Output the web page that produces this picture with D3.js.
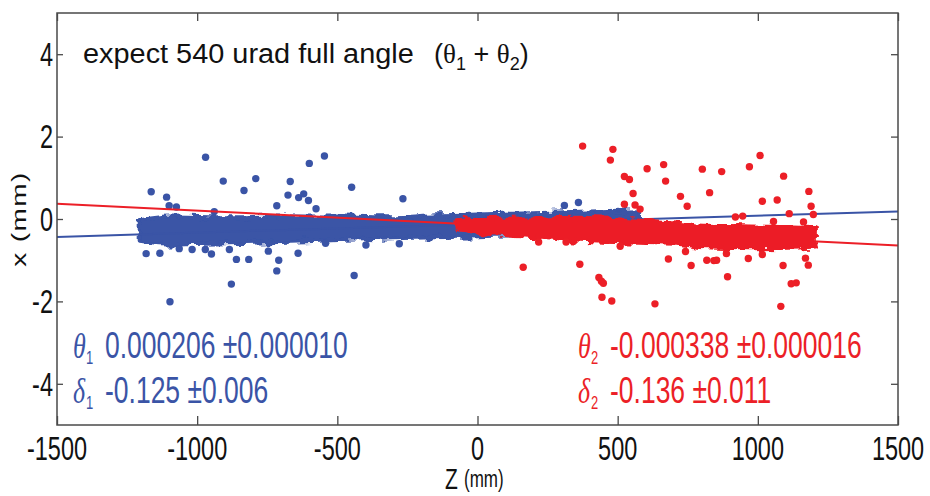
<!DOCTYPE html>
<html>
<head>
<meta charset="utf-8">
<script src="https://cdn.jsdelivr.net/npm/d3@7/dist/d3.min.js"></script>
<style>
  body { margin: 0; background: #fff; }
  svg { display: block; }
</style>
</head>
<body>
<div id="chart"></div>
<script>
// Data
const xTicks = [-1500, -1000, -500, 0, 500, 1000, 1500];
const yTicks = [-4, -2, 0, 2, 4];

// fit results: theta (slope, rad) and delta (offset, mm)
const fitTheta = [0.000206, -0.000338];
const fitDelta = [-0.125, -0.136];
const fitThetaErr = ["0.000010", "0.000016"];
const fitDeltaErr = ["0.006", "0.011"];

// dense core of each cloud: z, upper x, lower x
const blueBandZ = [-1205, -1100, -900, -700, -500, -300, -150, 0, 200, 400, 580];
const blueBandHi = [-0.03, 0.06, 0.04, 0.06, 0.06, 0.04, 0.09, 0.11, 0.14, 0.18, 0.21];
const blueBandLo = [-0.55, -0.62, -0.59, -0.56, -0.51, -0.47, -0.44, -0.42, -0.38, -0.34, -0.3];

const redBandZ = [-75, 0, 200, 365, 545, 725, 790, 975, 1150, 1207];
const redBandHi = [-0.03, 0.0, 0.01, 0.03, -0.03, -0.1, -0.16, -0.18, -0.21, -0.22];
const redBandLo = [-0.24, -0.33, -0.44, -0.53, -0.57, -0.61, -0.68, -0.71, -0.69, -0.67];

// scattered points outside the core, [z, x]
const blueOutliers = [
  [-970, 1.5], [-907, 0.92], [-791, 0.98], [-833, 0.69], [-600, 1.35], [-546, 1.53],
  [-668, 0.91], [-676, 0.58], [-638, 0.52], [-620, 0.61], [-603, 0.45], [-716, 0.32],
  [-576, 0.25], [-449, 0.77], [-266, 0.49], [-1164, 0.66], [-1109, 0.53], [-1100, 0.32],
  [-1074, 0.29], [-939, 0.18], [-1182, -0.84], [-1133, -0.83], [-1064, -0.72],
  [-1018, -0.74], [-971, -0.74], [-949, -0.85], [-885, -0.74], [-860, -0.98],
  [-816, -0.98], [-746, -0.78], [-709, -1.0], [-716, -1.26], [-640, -0.83],
  [-878, -1.58], [-440, -1.37], [-398, -0.63], [-279, -0.6], [-542, -0.59],
  [-1097, -2.01], [310, 0.33], [360, 0.4]
];
const redOutliers = [
  [375, 1.77], [483, 1.69], [474, 1.43], [524, 1.03], [542, 0.96], [555, 0.62],
  [524, 0.36], [562, 0.34], [580, 0.24], [605, 1.22], [664, 1.32], [671, 0.92],
  [724, 0.55], [748, 0.31], [802, 1.21], [828, 0.64], [871, 1.15], [970, 1.27],
  [1008, 1.54], [1092, 1.04], [1016, 0.43], [1069, 0.46], [1112, 0.13], [1182, 0.67],
  [1190, 0.31], [1198, 0.11], [920, 0.05], [946, 0.07], [1056, -0.06], [1163, -0.07],
  [163, -1.17], [218, -0.56], [316, -0.56], [365, -1.1], [433, -1.42], [442, -1.51],
  [449, -1.56], [444, -1.9], [479, -1.99], [509, -0.66], [633, -2.06], [681, -0.97],
  [742, -0.79], [762, -1.13], [818, -1.0], [843, -1.01], [853, -1.0], [888, -0.84],
  [892, -1.4], [966, -0.96], [1016, -0.86], [1090, -1.13], [1119, -1.57],
  [1137, -1.55], [1082, -2.12], [1170, -0.95], [1180, -1.12]
];

const blue = "#3a54a6";
const red = "#ec1f27";

const w = 930;
const h = 496;
const sy = 1.4; // the picture is stretched vertically

const x = d3.scaleLinear().domain([-1500, 1500]).range([57, 898]);
const y = d3.scaleLinear().domain([-5, 5]).range([425, 13]);

const svg = d3
  .select("#chart")
  .append("svg")
  .attr("width", w)
  .attr("height", h);

// ragged edge for the dense clouds
const defs = svg.append("defs");
const fuzz = defs
  .append("filter")
  .attr("id", "fuzz")
  .attr("x", "-5%")
  .attr("y", "-50%")
  .attr("width", "110%")
  .attr("height", "200%");
fuzz
  .append("feTurbulence")
  .attr("type", "fractalNoise")
  .attr("baseFrequency", "0.09 0.16")
  .attr("numOctaves", 2)
  .attr("seed", 7)
  .attr("result", "noise");
fuzz
  .append("feDisplacementMap")
  .attr("in", "SourceGraphic")
  .attr("in2", "noise")
  .attr("scale", 10)
  .attr("xChannelSelector", "R")
  .attr("yChannelSelector", "G")
  .attr("result", "moved");
fuzz
  .append("feGaussianBlur")
  .attr("in", "moved")
  .attr("stdDeviation", 0.6);

// stretched text helper
function label(g, px, py, str, opt = {}) {
  return g
    .append("text")
    .attr("transform", `translate(${px},${py}) scale(${opt.sx || 1},${opt.sy || sy})`)
    .attr("text-anchor", opt.anchor || "start")
    .style("font-family", opt.font || "'Liberation Sans', Arial, sans-serif")
    .style("font-size", (opt.size || 23.5) + "px")
    .style("font-style", opt.italic ? "italic" : "normal")
    .attr("fill", opt.color || "#111")
    .text(str);
}

const band = d3
  .area()
  .x(d => x(d[0]))
  .y0(d => y(d[2]))
  .y1(d => y(d[1]))
  .curve(d3.curveMonotoneX);

function drawCloud(zs, his, los, pts, col) {
  svg
    .append("path")
    .datum(zs.map((z, i) => [z, his[i], los[i]]))
    .attr("d", band)
    .attr("fill", col)
    .attr("stroke", col)
    .attr("stroke-width", 4)
    .attr("stroke-linejoin", "round")
    .attr("filter", "url(#fuzz)");
  svg
    .append("g")
    .selectAll("circle")
    .data(pts)
    .enter()
    .append("circle")
    .attr("cx", d => x(d[0]))
    .attr("cy", d => y(d[1]))
    .attr("r", 3.7)
    .attr("fill", col);
}

// blue cloud first, red drawn on top
drawCloud(blueBandZ, blueBandHi, blueBandLo, blueOutliers, blue);

// fit lines
const fitLine = d3
  .line()
  .x(d => x(d[0]))
  .y(d => y(d[1]));
[blue, red].forEach((col, i) => {
  svg
    .append("path")
    .datum(x.domain().map(z => [z, fitTheta[i] * z + fitDelta[i]]))
    .attr("d", fitLine)
    .attr("stroke", col)
    .attr("stroke-width", 2)
    .attr("fill", "none");
});

drawCloud(redBandZ, redBandHi, redBandLo, redOutliers, red);

// frame and ticks
const frame = "#4a4a4a";
svg
  .append("rect")
  .attr("x", x(-1500))
  .attr("y", y(5))
  .attr("width", x(1500) - x(-1500))
  .attr("height", y(-5) - y(5))
  .attr("fill", "none")
  .attr("stroke", frame)
  .attr("stroke-width", 1.5);

const axes = svg.append("g").attr("class", "axes");
axes
  .append("g")
  .attr("transform", `translate(0,${y(-5)})`)
  .call(d3.axisBottom(x).tickValues(xTicks).tickSize(-9).tickFormat(""));
axes
  .append("g")
  .attr("transform", `translate(0,${y(5)})`)
  .call(d3.axisTop(x).tickValues(xTicks).tickSize(-8).tickFormat(""));
axes
  .append("g")
  .attr("transform", `translate(${x(-1500)},0)`)
  .call(d3.axisLeft(y).tickValues(yTicks).tickSize(4).tickSizeInner(-6).tickFormat(""));
axes
  .append("g")
  .attr("transform", `translate(${x(1500)},0)`)
  .call(d3.axisRight(y).tickValues(yTicks).tickSize(-7).tickFormat(""));
axes.selectAll(".domain").remove();
axes.selectAll(".tick line").attr("stroke", frame).attr("stroke-width", 1.3);

// tick labels
xTicks.forEach(t => label(svg, x(t), 460, String(t), { anchor: "middle" }));
yTicks.forEach(t => label(svg, 53, y(t) + 11.7, String(t), { anchor: "end" }));

// axis titles
label(svg, 445, 489, "Z", { size: 21 });
label(svg, 464, 487, "(mm)", { size: 17 });
svg
  .append("text")
  .attr("transform", `translate(26,${y(0)}) rotate(-90) scale(1.4,1)`)
  .attr("text-anchor", "middle")
  .style("font-family", "'Liberation Sans', Arial, sans-serif")
  .style("font-size", "20px")
  .style("letter-spacing", "1px")
  .attr("fill", "#111")
  .text("x (mm)");

// title note
label(svg, 83, 63, "expect 540 urad full angle", { size: 27, sx: 1.07, sy: 1 });
const note = svg
  .append("text")
  .attr("x", 434)
  .attr("y", 63)
  .style("font-family", "'Liberation Sans', Arial, sans-serif")
  .style("font-size", "27px")
  .attr("fill", "#111");
note.append("tspan").text("(");
note.append("tspan").style("font-family", "'Liberation Serif', serif").text("θ");
note.append("tspan").attr("dy", 7).style("font-size", "18px").text("1");
note.append("tspan").attr("dy", -7).text(" + ");
note.append("tspan").style("font-family", "'Liberation Serif', serif").text("θ");
note.append("tspan").attr("dy", 7).style("font-size", "18px").text("2");
note.append("tspan").attr("dy", -7).text(")");

// fit parameter text
const statX = [73, 578];
const statCols = [blue, red];
[0, 1].forEach(i => {
  const col = statCols[i];
  const sx = statX[i];
  const serif = "'Liberation Serif', 'DejaVu Serif', serif";
  label(svg, sx, 358, "θ", { font: serif, italic: true, size: 26, color: col });
  label(svg, sx + 13, 364, String(i + 1), { size: 13, color: col });
  label(svg, sx + 32, 358, `${fitTheta[i].toFixed(6)} ±${fitThetaErr[i]}`, { size: 26.5, color: col });
  label(svg, sx, 403, "δ", { font: serif, italic: true, size: 26, color: col });
  label(svg, sx + 13, 409, String(i + 1), { size: 13, color: col });
  label(svg, sx + 32, 403, `${fitDelta[i].toFixed(3)} ±${fitDeltaErr[i]}`, { size: 26.5, color: col });
});
</script>
</body>
</html>
